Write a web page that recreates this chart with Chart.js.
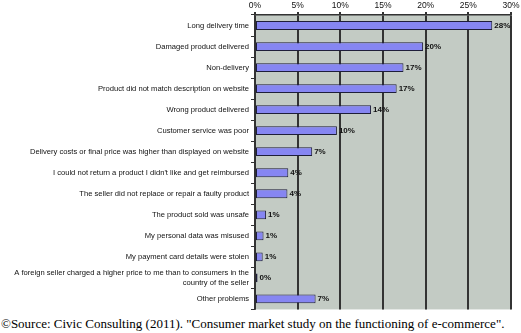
<!DOCTYPE html>
<html>
<head>
<meta charset="utf-8">
<script src="https://cdn.jsdelivr.net/npm/chart.js@4"></script>
<style>
  html, body { margin: 0; padding: 0; background: #fff; }
  #wrap { position: relative; width: 521px; height: 333px; }
  #chart { position: absolute; left: 0; top: 0; }
  #source { position: absolute; left: 1px; top: 316px; font: 13px "Liberation Serif", serif; color: #000; white-space: nowrap; }
</style>
</head>
<body>
<div id="wrap">
  <canvas id="chart" width="521" height="316"></canvas>
  <div id="source">©Source: Civic Consulting (2011). "Consumer market study on the functioning of e-commerce".</div>
</div>
<script>
// Problems experienced with cross-border online purchases (% of respondents)
const PROBLEMS = [
  'Long delivery time',
  'Damaged product delivered',
  'Non-delivery',
  'Product did not match description on website',
  'Wrong product delivered',
  'Customer service was poor',
  'Delivery costs or final price was higher than displayed on website',
  "I could not return a product I didn't like and get reimbursed",
  'The seller did not replace or repair a faulty product',
  'The product sold was unsafe',
  'My personal data was misused',
  'My payment card details were stolen',
  ['A foreign seller charged a higher price to me than to consumers in the', 'country of the seller'],
  'Other problems',
];
const SHARE = [27.8, 19.7, 17.4, 16.6, 13.6, 9.6, 6.7, 3.9, 3.8, 1.3, 1.0, 0.9, 0.3, 7.1];
const TICKS = [0, 5, 10, 15, 20, 25, 30];

const plotBg = {
  id: 'plotBg',
  beforeDraw(chart) {
    const { ctx, chartArea: a } = chart;
    ctx.save();
    ctx.fillStyle = '#c3cbc4';
    ctx.fillRect(a.left, a.top, a.right - a.left, a.bottom - a.top);
    ctx.restore();
  },
};

const valueLabels = {
  id: 'valueLabels',
  afterDatasetsDraw(chart) {
    const { ctx } = chart;
    const meta = chart.getDatasetMeta(0);
    ctx.save();
    ctx.font = 'bold 8px "Liberation Sans", Arial, sans-serif';
    ctx.fillStyle = '#111';
    ctx.textBaseline = 'middle';
    meta.data.forEach((bar, i) => {
      ctx.fillText(Math.round(SHARE[i]) + '%', bar.x + 2, bar.y);
    });
    ctx.restore();
  },
};

new Chart(document.getElementById('chart').getContext('2d'), {
  type: 'bar',
  data: {
    labels: PROBLEMS,
    datasets: [{
      data: SHARE,
      backgroundColor: '#8686f2',
      borderColor: '#1e1e3a',
      borderWidth: 1,
      borderSkipped: false,
      barPercentage: 0.42,
      categoryPercentage: 1,
    }],
  },
  options: {
    indexAxis: 'y',
    responsive: false,
    animation: false,
    layout: { padding: { left: 0, right: 10, top: 0, bottom: 3 } },
    plugins: { legend: { display: false }, tooltip: { enabled: false } },
    scales: {
      x: {
        position: 'top',
        min: 0, max: 30,
        afterBuildTicks: s => { s.ticks = TICKS.map(v => ({ value: v })); },
        afterFit: s => { s.height = 15; },
        grid: { color: '#333', lineWidth: 2, tickLength: 3 },
        border: { color: '#333', width: 1.5 },
        ticks: { color: '#111', padding: 1, font: { size: 8.5, family: '"Liberation Sans", Arial, sans-serif' }, callback: v => v + '%' },
      },
      y: {
        afterFit: s => { s.width = 255; },
        grid: { drawOnChartArea: false, color: '#333', tickLength: 4 },
        border: { color: '#333', width: 1.5 },
        ticks: { color: '#111', padding: 2, autoSkip: false, font: { size: 7.6, family: '"Liberation Sans", Arial, sans-serif' } },
      },
    },
  },
  plugins: [plotBg, valueLabels],
});
</script>
</body>
</html>
